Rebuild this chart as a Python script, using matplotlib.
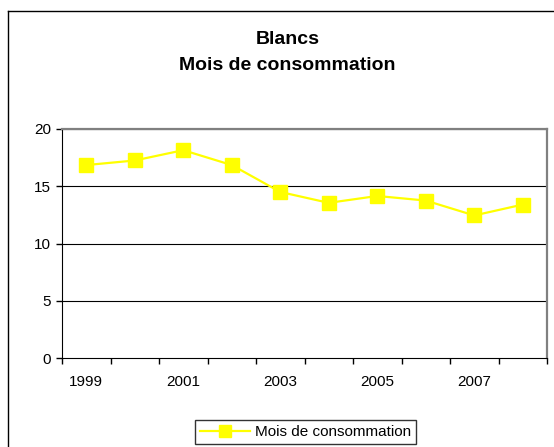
import matplotlib.pyplot as plt
from matplotlib.lines import Line2D

years = ['1999', '2000', '2001', '2002', '2003', '2004', '2005', '2006', '2007', '2008']
mois = [16.85, 17.25, 18.15, 16.85, 14.5, 13.55, 14.15, 13.75, 12.45, 13.4]
yticks = [0, 5, 10, 15, 20]

plt.rcParams['font.family'] = ['Liberation Sans', 'DejaVu Sans']

W, H = 554, 447
fig = plt.figure(figsize=(W / 100, H / 100), dpi=100)

# outer chart frame (only top and left edges fall inside the image)
fig.add_artist(Line2D([8 / W, 8 / W], [0, 1 - 11 / H], color='black', lw=1, transform=fig.transFigure))
fig.add_artist(Line2D([8 / W, 1], [1 - 11 / H, 1 - 11 / H], color='black', lw=1, transform=fig.transFigure))

ax = fig.add_axes([62 / W, (H - 358) / H, 485 / W, 229 / H])

x = list(range(len(years)))
ax.plot(x, mois, color='#FFFF00', lw=1.6, marker='s', markersize=10,
        markerfacecolor='#FFFF00', markeredgecolor='#FFFF00', label='Mois de consommation', zorder=3)

ax.set_xlim(-0.5, len(years) - 0.5)
ax.set_ylim(0, 20)
ax.set_yticks(yticks)
ax.set_yticklabels([str(v) for v in yticks], fontsize=11)
for v in yticks[1:]:
    ax.axhline(v, color='black', lw=0.8, zorder=1)

ax.set_xticks(x[::2])
ax.set_xticklabels(years[::2], fontsize=11)
ax.set_xticks([i - 0.5 for i in range(len(years) + 1)], minor=True)
ax.tick_params(axis='x', which='major', length=0, pad=12)
ax.tick_params(axis='x', which='minor', length=4, width=1, direction='out')
ax.tick_params(axis='y', length=4, width=1, direction='out', pad=4)

ax.spines['left'].set_color('black')
ax.spines['bottom'].set_color('black')
ax.spines['top'].set_color('#808080')
ax.spines['right'].set_color('#808080')
ax.spines['top'].set_linewidth(1.6)
ax.spines['right'].set_linewidth(1.6)

fig.text(287.5 / W, 1 - 39 / H, 'Blancs', ha='center', va='center', fontsize=14, fontweight='bold')
fig.text(287.5 / W, 1 - 65 / H, 'Mois de consommation', ha='center', va='center', fontsize=14, fontweight='bold')

leg = fig.legend(loc='center', bbox_to_anchor=(305.5 / W, 1 - 432 / H), fontsize=11,
                 frameon=True, fancybox=False, handlelength=3.3, borderpad=0.3,
                 handletextpad=0.3, markerscale=0.85)
leg.get_frame().set_edgecolor('black')
leg.get_frame().set_linewidth(1)

plt.savefig('out.png', dpi=100)
